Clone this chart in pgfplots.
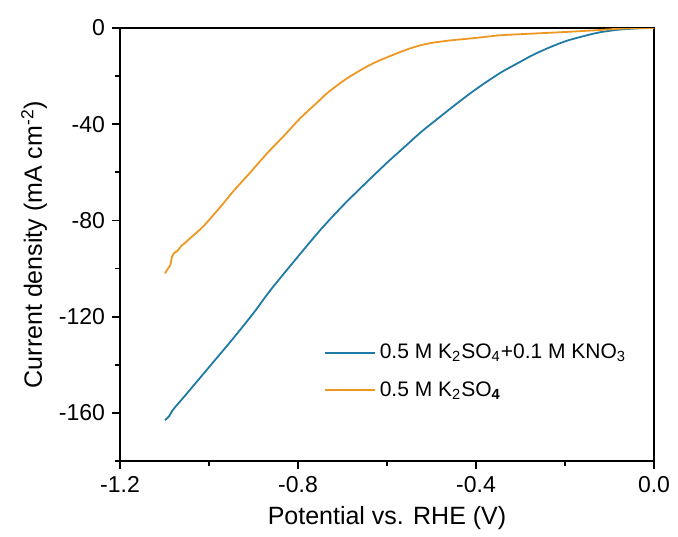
\documentclass[border=0pt]{standalone}
\usepackage{fontspec}
\setmainfont{Liberation Sans}
\usepackage{pgfplots}
\pgfplotsset{compat=1.18}
\definecolor{cblue}{RGB}{32,122,166}
\definecolor{corange}{RGB}{238,152,36}
\begin{document}
\begin{tikzpicture}
\begin{axis}[
  scale only axis,
  width=267pt, height=216.5pt,
  xmin=-1.2, xmax=0, ymin=-180, ymax=0,
  xtick={-1.2,-0.8,-0.4,0},
  minor xtick={-1.0,-0.6,-0.2},
  ytick={-160,-120,-80,-40,0},
  minor ytick={-180,-140,-100,-60,-20},
  tick align=outside, tick pos=left,
  major tick length=4pt, minor tick length=2.5pt,
  every tick/.style={black, line width=0.9pt},
  axis line style={line width=0.9pt},
  /pgf/number format/assume math mode=true,
  xticklabel style={/pgf/number format/.cd, fixed, fixed zerofill, precision=1},
  tick label style={font=\fontsize{11.5}{13}\selectfont},
  label style={font=\fontsize{12.5}{15}\selectfont},
  xlabel={Potential vs. RHE (V)},
  ylabel={Current density (mA cm\textsuperscript{-2})},
  xlabel style={yshift=0pt},
  ylabel style={yshift=-1pt},
  legend style={draw=none, fill=none, at={(0.37,0.29)}, anchor=north west,
    font=\fontsize{10.5}{13}\selectfont, row sep=6pt},
  legend cell align=left,
  legend image code/.code={\draw[#1, line width=0.9pt] (0pt,0pt) -- (25pt,0pt);},
]
\coordinate (ll) at (rel axis cs:0,0);
\coordinate (ur) at (rel axis cs:1,1);
\addplot[cblue, line width=0.9pt, smooth, tension=0.5] coordinates {
(-1.099,-163) (-1.09,-161.5) (-1.08,-158.5) (-1.05,-152) (-1.00,-141) (-0.95,-130)
(-0.90,-118.5) (-0.862,-109) (-0.80,-95) (-0.75,-84) (-0.70,-74) (-0.653,-65.4)
(-0.60,-56) (-0.57,-51) (-0.525,-43.5) (-0.495,-39) (-0.45,-32.4) (-0.419,-28)
(-0.389,-24) (-0.344,-18.5) (-0.30,-14) (-0.27,-11) (-0.23,-7.7) (-0.194,-5.2)
(-0.15,-3) (-0.119,-1.7) (-0.08,-0.7) (-0.059,-0.4) (-0.03,-0.1) (0,0)
};
\addlegendentry{0.5 M K\textsubscript{2}SO\textsubscript{4}+0.1 M KNO\textsubscript{3}}
\addplot[corange, line width=0.9pt, smooth, tension=0.4] coordinates {
(-1.099,-102) (-1.092,-100) (-1.087,-98.5) (-1.083,-95) (-1.078,-93.5) (-1.07,-92.5)
(-1.062,-90.5) (-1.055,-89.5) (-1.04,-87) (-1.013,-82.5) (-0.975,-74.5) (-0.946,-68)
(-0.907,-60) (-0.869,-52) (-0.83,-44.5) (-0.795,-37.5) (-0.76,-31.5) (-0.734,-27)
(-0.70,-22.2) (-0.682,-20) (-0.65,-16.5) (-0.621,-13.8) (-0.576,-10.4) (-0.55,-8.6)
(-0.525,-7.2) (-0.50,-6.2) (-0.46,-5.2) (-0.427,-4.6) (-0.389,-3.9) (-0.344,-3)
(-0.27,-2.3) (-0.194,-1.6) (-0.119,-0.8) (-0.08,-0.3) (-0.05,-0.1) (0,0)
};
\addlegendentry{0.5 M K\textsubscript{2}SO\textsubscript{\textbf{4}}}
\end{axis}
\path[use as bounding box] ([shift={(-60pt,-36pt)}]ll) rectangle ([shift={(12pt,14pt)}]ur);
\end{tikzpicture}
\end{document}
